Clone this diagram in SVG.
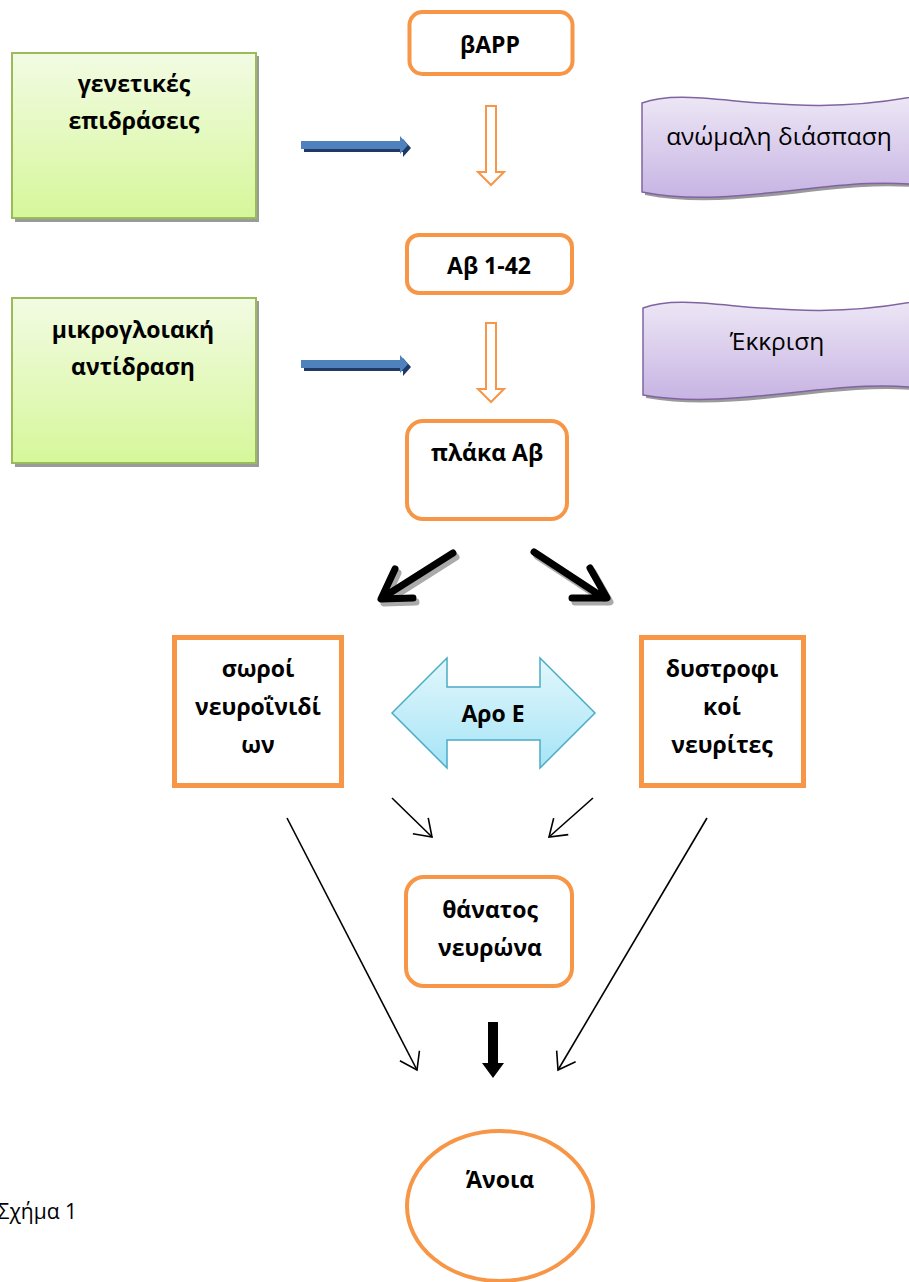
<svg xmlns="http://www.w3.org/2000/svg" width="909" height="1282" viewBox="0 0 909 1282">
<style>
.t{font-family:"Open Sans","Noto Sans","DejaVu Sans",sans-serif;fill:#000;text-anchor:middle}
.b{font-weight:bold;font-size:23px}
.r{font-size:24.5px}
.ob{fill:#fff;stroke:#F79646;stroke-width:4}
.sq{fill:#fff;stroke:#F79646;stroke-width:5}
.gr{fill:url(#gG);stroke:#9BBB59;stroke-width:2}
.pu{fill:url(#gP);stroke:#8064A2;stroke-width:1.5}
.sh{fill:#9a9a9a}
.oa{fill:#fff;stroke:#F79646;stroke-width:2}
.thin{fill:none;stroke:#000;stroke-width:1.6;marker-end:url(#ah)}
.thick{fill:none;stroke:#000;stroke-width:7;stroke-linecap:round;stroke-linejoin:round}
.thicks{fill:none;stroke:#aaa;stroke-width:7;stroke-linecap:round;stroke-linejoin:round}
</style>
<defs>
<linearGradient id="gG" x1="0" y1="0" x2="0" y2="1"><stop offset="0" stop-color="#F2FBE3"/><stop offset="1" stop-color="#D6F79A"/></linearGradient>
<linearGradient id="gP" x1="0" y1="0" x2="0" y2="1"><stop offset="0" stop-color="#EEE8F6"/><stop offset="1" stop-color="#C7B4E3"/></linearGradient>
<linearGradient id="gB" x1="0" y1="0" x2="0" y2="1"><stop offset="0" stop-color="#E2F7FC"/><stop offset="1" stop-color="#A6E4F6"/></linearGradient>
<marker id="ah" markerUnits="userSpaceOnUse" markerWidth="24" markerHeight="24" refX="18" refY="12" orient="auto" viewBox="0 0 24 24">
<path d="M2,1 L18,12 L2,23" fill="none" stroke="#000" stroke-width="1.6"/>
</marker>
</defs>

<g id="genetic">
<rect x="15" y="56" width="244" height="166" class="sh"/>
<rect x="12" y="53" width="244" height="165" class="gr"/>
<text class="t b" x="134" y="92">γενετικές</text>
<text class="t b" x="134" y="129">επιδράσεις</text>
</g>

<g id="microglial">
<rect x="15" y="301" width="244" height="166" class="sh"/>
<rect x="12" y="298" width="244" height="165" class="gr"/>
<text class="t b" x="133" y="338">μικρογλοιακή</text>
<text class="t b" x="133" y="375">αντίδραση</text>
</g>

<g id="bAPP">
<rect x="409.5" y="12" width="163" height="62" rx="13" class="ob"/>
<text class="t b" x="490" y="53">βAPP</text>
</g>

<g id="ab142">
<rect x="407" y="235" width="165" height="58" rx="12" class="ob"/>
<text class="t b" x="489" y="274">Aβ 1-42</text>
</g>

<g id="plaque">
<rect x="407" y="421" width="160" height="98" rx="16" class="ob"/>
<text class="t b" x="487" y="461">πλάκα Aβ</text>
</g>

<g id="abnormal">
<path d="M645,106 C700,86 790,128 935,96 L935,190 C850,174 740,214 645,195 Z" class="sh"/>
<path d="M642,103 C697,83 787,125 932,93 L932,187 C847,171 737,211 642,192 Z" class="pu"/>
<text class="t r" x="779" y="145">ανώμαλη διάσπαση</text>
</g>

<g id="secretion">
<path d="M646,311 C700,291 790,333 935,301 L935,393 C850,377 740,415 646,398 Z" class="sh"/>
<path d="M643,308 C697,288 787,330 932,298 L932,390 C847,374 737,412 643,395 Z" class="pu"/>
<text class="t r" x="777" y="350">Έκκριση</text>
</g>

<g id="tangles">
<rect x="174.5" y="637.5" width="167" height="148" class="sq"/>
<text class="t b" x="258" y="677">σωροί</text>
<text class="t b" x="258" y="715">νευροΐνιδί</text>
<text class="t b" x="258" y="753">ων</text>
</g>

<g id="neurites">
<rect x="641.5" y="637.5" width="162" height="148" class="sq"/>
<text class="t b" x="722" y="677">δυστροφι</text>
<text class="t b" x="722" y="715">κοί</text>
<text class="t b" x="722" y="753">νευρίτες</text>
</g>

<g id="apoE">
<path d="M392,713 L447,658 L447,687 L540,687 L540,658 L595,713 L540,768 L540,740 L447,740 L447,768 Z" fill="url(#gB)" stroke="#4BACC6" stroke-width="1.5"/>
<text class="t b" x="493" y="722">Aρο E</text>
</g>

<g id="death">
<rect x="406" y="877" width="166" height="109" rx="18" class="ob"/>
<text class="t b" x="490" y="918">θάνατος</text>
<text class="t b" x="490" y="956">νευρώνα</text>
</g>

<g id="dementia">
<ellipse cx="500" cy="1206" rx="93" ry="75" class="ob"/>
<text class="t b" x="500" y="1188">Άνοια</text>
</g>

<g id="caption">
<text class="t" x="77" y="1219" style="font-size:21px;text-anchor:end">Σχήμα 1</text>
</g>

<g id="connectors">
<path d="M304,144 L403,144 L403,139 L411,148 L403,157 L403,152 L304,152 Z" fill="#1F3864"/>
<path d="M301,141 L400,141 L400,136 L408,145 L400,154 L400,149 L301,149 Z" fill="#4F81BD"/>
<path d="M304,363 L403,363 L403,358 L411,367 L403,376 L403,371 L304,371 Z" fill="#1F3864"/>
<path d="M301,360 L400,360 L400,355 L408,364 L400,373 L400,368 L301,368 Z" fill="#4F81BD"/>

<path d="M486,106 L496,106 L496,172 L504,172 L491,185 L478,172 L486,172 Z" class="oa"/>
<path d="M486,323 L496,323 L496,389 L504,389 L491,402 L478,389 L486,389 Z" class="oa"/>

<path d="M456,557 L385,602 M398,573 L384,603 L416,602" class="thicks"/>
<path d="M453,553 L382,598 M395,569 L381,599 L413,598" class="thick"/>
<path d="M537,556 L607,602 M593,572 L610,602 L575,602" class="thicks"/>
<path d="M534,552 L604,598 M590,568 L607,598 L572,598" class="thick"/>

<line x1="392" y1="798" x2="432" y2="837" class="thin"/>
<line x1="593" y1="798" x2="549" y2="837" class="thin"/>
<line x1="287" y1="818" x2="417" y2="1070" class="thin"/>
<line x1="707" y1="818" x2="558" y2="1070" class="thin"/>

<path d="M488,1022 L498,1022 L498,1063 L504,1063 L493,1078 L482,1063 L488,1063 Z" fill="#000"/>
</g>
</svg>
